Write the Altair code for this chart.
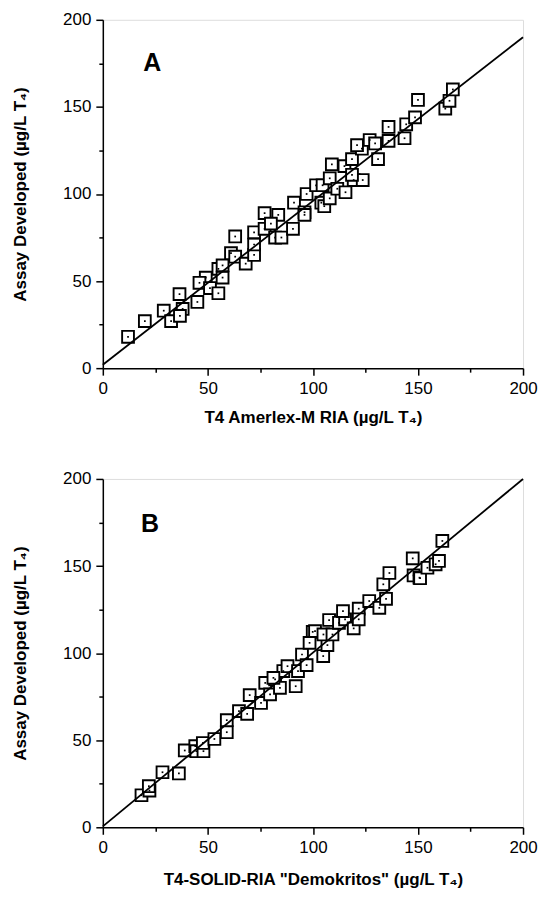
import altair as alt
import pandas as pd

# ---- data ----
a_x = [12, 20, 29, 32.5, 36.5, 38, 36.7, 45, 49, 46, 51, 55, 55, 57, 57, 61, 63, 63, 68, 72,
       72, 72, 77, 77, 82, 83.5, 80, 85, 90.5, 91, 96, 97, 96, 101.5, 104.6, 104, 105.4, 108,
       108, 109, 111.6, 115, 115.5, 119.4, 123.7, 118.6, 118.6, 123.3, 121, 127, 129.6, 131,
       136, 136, 143.6, 144.4, 148.6, 150, 163, 165, 166.6]
a_y = [18, 27, 33, 27, 42.5, 34, 30, 38, 52, 49, 46, 43, 57, 52, 59, 66, 64, 75.6, 60, 65,
       71, 78, 89, 80, 75, 88, 83, 75, 80, 95, 89.5, 100, 88, 105, 105, 95, 93, 97.5,
       109, 117, 103, 116, 101, 108, 108, 120, 111, 126, 128, 131, 129, 120,
       130.5, 138.5, 132, 140, 144, 154, 149, 153.5, 160]

b_x = [18.4, 22.2, 21.9, 28.4, 36.2, 39, 44, 44.5, 47.9, 47.6, 53.1, 59, 59, 64.8, 68.7, 69.9,
       75.3, 77.3, 79.6, 82, 84.3, 85.9, 87.9, 81.2, 91.8, 92.9, 94.8, 97, 99.9, 98.4, 101,
       104.9, 106.9, 105, 109.3, 107.7, 112.4, 115.3, 114.3, 119.4, 121.8, 121.8, 126.8,
       131.6, 134.8, 133.5, 136.4, 147.5, 147.9, 150.7, 151, 154.5, 158.4, 160, 161.6]
b_y = [18.4, 21.1, 23.6, 31.6, 30.9, 44.1, 46.6, 43.7, 43.7, 48.4, 50.7, 54.6, 61.5, 66.7, 65.1, 75.9,
       71.4, 82.9, 76.3, 84.9, 80.1, 89.7, 92.5, 85.8, 81, 89.7, 99.2, 93.1, 112.2, 105.9, 112.6,
       98.3, 104.6, 110.7, 110.7, 119, 117.4, 119.4, 124.1, 114.2, 125.5, 119.4, 129.9,
       126, 131.2, 139.5, 146, 154.4, 144.6, 143.3, 143, 149, 151, 152.9, 164.4]

line_x = [0, 200]
a_line_y = [2, 190]
b_line_y = [0.5, 200]

axis_ticks = [0, 25, 50, 75, 100, 125, 150, 175, 200]
panel_letters = ["A", "B"]
letter_x = [23.5, 22.5]
letter_y = [175, 174]

x_titles = ["T4 Amerlex-M RIA (µg/L T₄)", 'T4-SOLID-RIA "Demokritos" (µg/L T₄)']
y_title = "Assay Developed (µg/L T₄)"

FONT = "Liberation Sans"
TITLE_FONT = "Liberation Sans, DejaVu Sans"
W, H = 421, 349


def make_axis(title, title_pad):
    return alt.Axis(
        values=axis_ticks,
        title=title,
        titleFont=TITLE_FONT,
        titleFontSize=17,
        titleFontWeight="bold",
        titleColor="black",
        titlePadding=title_pad,
        labelFont=FONT,
        labelFontSize=17,
        labelColor="black",
        labelPadding=5,
        labelFlush=False,
        labelOverlap=False,
        labelExpr="datum.value % 50 === 0 ? datum.label : ''",
        tickSize={"condition": {"test": "datum.value % 50 === 0", "value": 7}, "value": 4},
        tickColor="black",
        tickWidth=1.5,
        domainColor="black",
        domainWidth=1.5,
        grid=False,
    )


def panel(i, px, py, ly, xtitle_pad):
    pts = pd.DataFrame({"x": px, "y": py})
    ln = pd.DataFrame({"x": line_x, "y": ly})
    lab = pd.DataFrame({"x": [letter_x[i]], "y": [letter_y[i]], "t": [panel_letters[i]]})
    xs = alt.Scale(domain=[0, 200], nice=False, zero=False)
    ys = alt.Scale(domain=[0, 200], nice=False, zero=False)
    xenc = alt.X("x:Q", scale=xs, axis=make_axis(x_titles[i], xtitle_pad))
    yenc = alt.Y("y:Q", scale=ys, axis=make_axis(y_title, 33))

    squares = alt.Chart(pts).mark_square(
        size=140, filled=True, fill="white", stroke="black", strokeWidth=1.9, opacity=1
    ).encode(x=xenc, y=yenc)
    dots = alt.Chart(pts).mark_square(size=3, filled=True, color="black", opacity=1).encode(
        x="x:Q", y="y:Q"
    )
    line = alt.Chart(ln).mark_line(color="black", strokeWidth=1.8).encode(x="x:Q", y="y:Q")
    text = alt.Chart(lab).mark_text(
        font=FONT, fontSize=25, fontWeight="bold", color="black"
    ).encode(x="x:Q", y="y:Q", text="t:N")
    return alt.layer(squares, dots, line, text).properties(width=W, height=H)


chart = alt.vconcat(
    panel(0, a_x, a_y, a_line_y, 13),
    panel(1, b_x, b_y, b_line_y, 16),
    spacing=43,
).properties(
    padding={"left": 3, "top": 1, "right": 0, "bottom": 0}
).configure_view(stroke="black", strokeWidth=1.5).configure(background="white")

chart.save("out.html", embed_options={"renderer": "svg", "actions": False})
